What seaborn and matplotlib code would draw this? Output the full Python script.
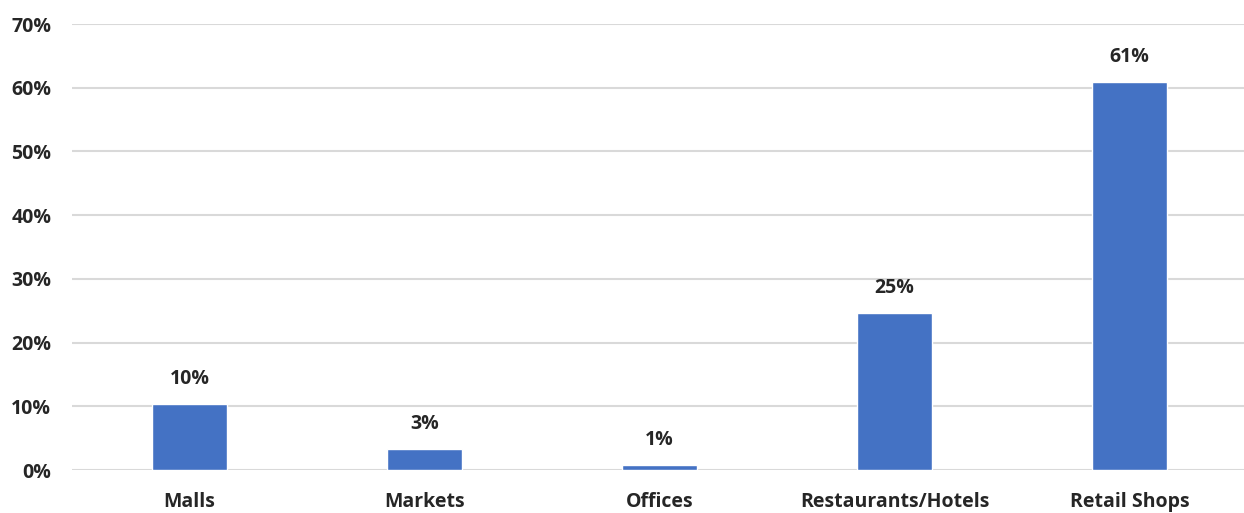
import matplotlib
matplotlib.use("Agg")
import matplotlib.pyplot as plt
import seaborn as sns
import pandas as pd

categories = ["Malls", "Markets", "Offices", "Restaurants/Hotels", "Retail Shops"]
values = [10.3, 3.3, 0.8, 24.6, 60.9]
labels = ["10%", "3%", "1%", "25%", "61%"]
yticks = [0, 10, 20, 30, 40, 50, 60, 70]

sns.set_theme(style="white")
plt.rcParams['font.family'] = ['Open Sans', 'DejaVu Sans']

FS = 14

df = pd.DataFrame({"cat": categories, "val": values})
fig = plt.figure(figsize=(12.44, 5.13), dpi=100)
ax = fig.add_axes([72 / 1244, 43 / 513, 1175 / 1244, 446 / 513])
sns.barplot(data=df, x="cat", y="val", color="#4472C4", width=0.315, saturation=1, ax=ax, zorder=3)
ax.set_ylim(0, 70)
ax.set_yticks(yticks)
ax.set_yticklabels([f"{t}%" for t in yticks], fontsize=FS, fontweight="bold", color="#262626")
ax.set_xticklabels(categories, fontsize=FS, fontweight="bold", color="#262626")
ax.set_xlabel("")
ax.set_ylabel("")
ax.grid(axis="y", color="#d9d9d9", linewidth=1.5, zorder=0)
for s in ax.spines.values():
    s.set_visible(False)
ax.tick_params(axis="both", length=0)
ax.tick_params(axis="y", pad=15)
ax.tick_params(axis="x", pad=16)
for p, lab in zip(ax.patches, labels):
    ax.annotate(lab, (p.get_x() + p.get_width() / 2, p.get_height()), xytext=(0, 11),
                textcoords="offset points", ha="center", va="bottom",
                fontsize=FS, fontweight="bold", color="#262626")
ax.set_xlim(-0.5, 4.5)
fig.savefig("out.png", dpi=100)
